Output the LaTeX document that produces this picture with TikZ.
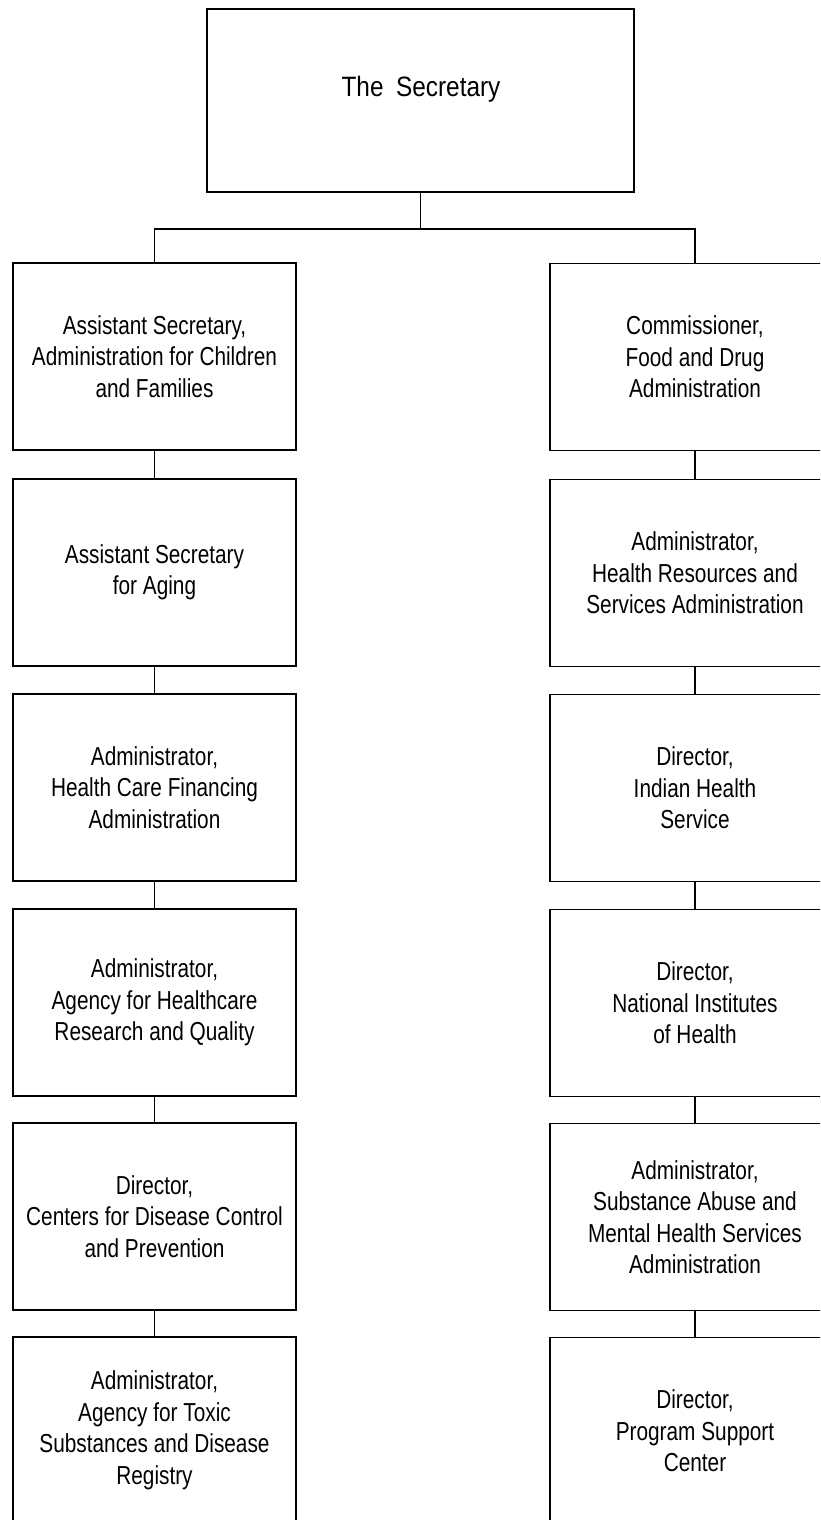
\documentclass[tikz,border=0pt]{standalone}
\usepackage{fontspec}
\setmainfont{Liberation Sans}[FakeStretch=0.8]
\newfontfamily\secfont{Liberation Sans}[FakeStretch=0.87]
\begin{document}
\begin{tikzpicture}[x=1pt,y=-1pt,
  box/.style={draw, line width=1.6pt, minimum width=283pt, minimum height=187pt,
    align=center, inner sep=0pt, font=\fontsize{26}{31.5}\selectfont},
  rbox/.style={box, minimum width=290pt},
  link/.style={line width=1.6pt}]
\useasboundingbox (0,0) rectangle (820,1520);
\clip (0,0) rectangle (820,1520);
\node[draw, line width=1.6pt, minimum width=427pt, minimum height=183pt, inner sep=0pt] (sec) at (420.5,100.5) {};
\node[font=\secfont\fontsize{28}{33}\selectfont] (sectext) at (421,89) {The\hspace{0.45em}Secretary};
% left column
\node[box] (l1) at (154.5,356.5) {Assistant Secretary,\\Administration for Children\\and Families};
\node[box] (l2) at (154.5,572.5) {Assistant Secretary\\for Aging};
\node[box] (l3) at (154.5,787.5) {Administrator,\\Health Care Financing\\Administration};
\node[box] (l4) at (154.5,1002.5) {Administrator,\\Agency for Healthcare\\Research and Quality};
\node[box] (l5) at (154.5,1216.5) {Director,\\Centers for Disease Control\\and Prevention};
\node[box] (l6) at (154.5,1430.5) {Administrator,\\Agency for Toxic\\Substances and Disease\\Registry};
% right column
\node[rbox] (r1) at (695,357) {Commissioner,\\Food and Drug\\Administration};
\node[rbox] (r2) at (695,573) {Administrator,\\Health Resources and\\Services Administration};
\node[rbox] (r3) at (695,788) {Director,\\Indian Health\\Service};
\node[rbox] (r4) at (695,1003) {Director,\\National Institutes\\of Health};
\node[rbox] (r5) at (695,1217) {Administrator,\\Substance Abuse and\\Mental Health Services\\Administration};
\node[rbox] (r6) at (695,1431) {Director,\\Program Support\\Center};
% connectors
\coordinate (bus) at (421,229);
\draw[link] (sec.south) -- (sec.south |- bus);
\draw[link] (l1.north) -- (l1.north |- bus) -- (r1.north |- bus) -- (r1.north);
\foreach \a/\b in {l1/l2,l2/l3,l3/l4,l4/l5,l5/l6,r1/r2,r2/r3,r3/r4,r4/r5,r5/r6}
  \draw[link] (\a.south) -- (\b.north);
\end{tikzpicture}
\end{document}
